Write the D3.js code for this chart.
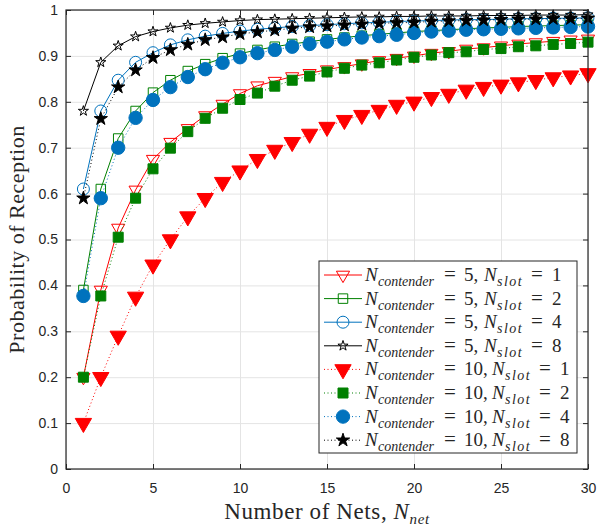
<!DOCTYPE html>
<html>
<head>
<meta charset="utf-8">
<script src="https://cdn.jsdelivr.net/npm/d3@7"></script>
<style>
  body { margin: 0; background: #fff; }
  .tick text { font-family: "Liberation Sans", Arial, sans-serif; font-size: 14px; fill: #262626; }
  .grid line { stroke: #e4e4e4; }
  .grid .domain { display: none; }
</style>
</head>
<body>
<div id="chart"></div>
<script>
/* Probability of reception vs number of nets */

// data
const nets = [1,2,3,4,5,6,7,8,9,10,11,12,13,14,15,16,17,18,19,20,21,22,23,24,25,26,27,28,29,30];

const c5s1 = [0.20,0.39,0.525,0.608,0.675,0.712,0.742,0.770,0.795,0.818,0.835,0.845,0.855,0.862,0.870,0.877,0.883,0.890,0.895,0.900,0.906,0.910,0.915,0.918,0.922,0.926,0.929,0.932,0.935,0.937];
const c5s2 = [0.39,0.61,0.72,0.78,0.82,0.847,0.867,0.882,0.895,0.905,0.913,0.920,0.926,0.931,0.936,0.940,0.944,0.947,0.950,0.953,0.955,0.957,0.959,0.961,0.962,0.964,0.965,0.966,0.967,0.968];
const c5s4 = [0.61,0.78,0.847,0.886,0.907,0.924,0.935,0.943,0.949,0.954,0.958,0.961,0.964,0.966,0.968,0.970,0.972,0.973,0.975,0.976,0.977,0.978,0.979,0.979,0.980,0.981,0.981,0.982,0.982,0.983];
const c5s8 = [0.78,0.886,0.922,0.942,0.953,0.961,0.967,0.971,0.974,0.977,0.979,0.980,0.981,0.982,0.983,0.984,0.985,0.985,0.986,0.986,0.987,0.987,0.987,0.988,0.988,0.988,0.989,0.989,0.989,0.990];
const c10s1 = [0.10,0.20,0.29,0.375,0.445,0.50,0.55,0.59,0.625,0.65,0.675,0.695,0.712,0.730,0.745,0.760,0.771,0.782,0.793,0.800,0.810,0.817,0.826,0.832,0.837,0.842,0.847,0.853,0.857,0.862];
const c10s2 = [0.20,0.377,0.505,0.59,0.654,0.699,0.735,0.764,0.786,0.805,0.819,0.834,0.847,0.856,0.865,0.873,0.880,0.885,0.891,0.897,0.902,0.907,0.909,0.914,0.916,0.920,0.922,0.925,0.927,0.930];
const c10s4 = [0.377,0.59,0.70,0.765,0.804,0.832,0.854,0.871,0.885,0.897,0.906,0.913,0.920,0.926,0.931,0.936,0.940,0.943,0.946,0.950,0.953,0.955,0.957,0.958,0.959,0.960,0.961,0.962,0.963,0.964];
const c10s8 = [0.59,0.763,0.832,0.869,0.896,0.913,0.925,0.935,0.941,0.948,0.952,0.956,0.960,0.963,0.965,0.967,0.969,0.971,0.972,0.973,0.975,0.976,0.977,0.978,0.979,0.980,0.980,0.981,0.981,0.982];

const contenders = [5, 5, 5, 5, 10, 10, 10, 10];
const slots = [1, 2, 4, 8, 1, 2, 4, 8];

const xTicks = [0, 5, 10, 15, 20, 25, 30];
const yTicks = [0, 0.1, 0.2, 0.3, 0.4, 0.5, 0.6, 0.7, 0.8, 0.9, 1];

const width = 597,
    height = 527,
    margin = ({ top: 10, right: 9, bottom: 58, left: 66 });

const svg = d3.select("#chart")
    .append("svg")
    .attr("width", width)
    .attr("height", height);

let x = d3.scaleLinear()
    .domain([0, 30])
    .range([margin.left, width - margin.right]);

let y = d3.scaleLinear()
    .domain([0, 1])
    .range([height - margin.bottom, margin.top]);

// grid lines first, under everything
svg.append("g")
    .attr("class", "grid")
    .attr("transform", `translate(0,${margin.top})`)
    .call(d3.axisBottom(x).tickValues(xTicks).tickSize(height - margin.bottom - margin.top).tickFormat(""));

svg.append("g")
    .attr("class", "grid")
    .attr("transform", `translate(${margin.left},0)`)
    .call(d3.axisRight(y).tickValues(yTicks).tickSize(width - margin.left - margin.right).tickFormat(""));

// series styles
const red = "#ff0000", green = "#008000", blue = "#0072bd", black = "#000000";

const series = [
    { vals: c5s1, color: red, dotted: false, shape: "tri", size: 75, filled: false },
    { vals: c5s2, color: green, dotted: false, shape: "square", size: 90, filled: false },
    { vals: c5s4, color: blue, dotted: false, shape: "circle", size: 113, filled: false },
    { vals: c5s8, color: black, dotted: false, shape: "star", size: 32, filled: false },
    { vals: c10s1, color: red, dotted: true, shape: "tri", size: 115, filled: true },
    { vals: c10s2, color: green, dotted: true, shape: "square", size: 100, filled: true },
    { vals: c10s4, color: blue, dotted: true, shape: "circle", size: 140, filled: true },
    { vals: c10s8, color: black, dotted: true, shape: "star", size: 55, filled: true }
];

const shapes = { tri: d3.symbolTriangle, square: d3.symbolSquare, circle: d3.symbolCircle, star: d3.symbolStar };

function drawMarker(g, s) {
    g.append("path")
        .attr("d", d3.symbol().type(shapes[s.shape]).size(s.size)())
        .attr("transform", s.shape === "tri" ? "rotate(180)" : null) // downward triangle
        .attr("fill", s.filled ? s.color : "none")
        .attr("stroke", s.color)
        .attr("stroke-width", 1);
}

let line = d3.line()
    .x(d => x(d.n))
    .y(d => y(d.p));

series.forEach(s => {
    let pts = nets.map((n, i) => ({ n: n, p: s.vals[i] }));
    let g = svg.append("g");
    g.append("path")
        .datum(pts)
        .attr("d", line)
        .attr("fill", "none")
        .attr("stroke", s.color)
        .attr("stroke-width", 1)
        .attr("stroke-dasharray", s.dotted ? "1,2.5" : null);
    g.selectAll(".m")
        .data(pts)
        .join("g")
        .attr("transform", d => `translate(${x(d.n)},${y(d.p)})`)
        .each(function () { drawMarker(d3.select(this), s); });
});

// axes: box with inward ticks
svg.append("g")
    .attr("transform", `translate(0,${height - margin.bottom})`)
    .call(d3.axisBottom(x).tickValues(xTicks).tickSize(-5).tickSizeOuter(0).tickPadding(14))
    .call(g => g.select(".domain").remove());

svg.append("g")
    .attr("transform", `translate(${margin.left},0)`)
    .call(d3.axisLeft(y).tickValues(yTicks).tickSize(-5).tickSizeOuter(0).tickPadding(8).tickFormat(d3.format("")))
    .call(g => g.select(".domain").remove());

svg.append("g")
    .attr("transform", `translate(0,${margin.top})`)
    .call(d3.axisTop(x).tickValues(xTicks).tickSize(-5).tickSizeOuter(0).tickFormat(""))
    .call(g => g.select(".domain").remove());

svg.append("g")
    .attr("transform", `translate(${width - margin.right},0)`)
    .call(d3.axisRight(y).tickValues(yTicks).tickSize(-5).tickSizeOuter(0).tickFormat(""))
    .call(g => g.select(".domain").remove());

svg.selectAll(".tick line").attr("stroke", "#262626");

svg.append("rect")
    .attr("x", margin.left)
    .attr("y", margin.top)
    .attr("width", width - margin.left - margin.right)
    .attr("height", height - margin.top - margin.bottom)
    .attr("fill", "none")
    .attr("stroke", "#262626")
    .attr("stroke-width", 1.2);

// axis labels (serif, like the LaTeX labels)
svg.append("text")
    .attr("text-anchor", "middle")
    .attr("transform", `translate(24,${(margin.top + height - margin.bottom) / 2}) rotate(-90)`)
    .attr("font-family", "Liberation Serif, serif")
    .attr("font-size", 22)
    .attr("letter-spacing", 0.5)
    .attr("fill", "#262626")
    .text("Probability of Reception");

let xl = svg.append("text")
    .attr("text-anchor", "middle")
    .attr("x", (margin.left + width - margin.right) / 2)
    .attr("y", 519)
    .attr("font-family", "Liberation Serif, serif")
    .attr("font-size", 23)
    .attr("letter-spacing", 0.6)
    .attr("fill", "#262626");
xl.append("tspan").text("Number of Nets, ");
xl.append("tspan").attr("font-style", "italic").text("N");
xl.append("tspan").attr("font-style", "italic").attr("font-size", 15).attr("dy", 5).text("net");

// legend
const legend = svg.append("g").attr("transform", "translate(319,261)");
legend.append("rect")
    .attr("width", 258)
    .attr("height", 192)
    .attr("fill", "#fff")
    .attr("stroke", "#262626")
    .attr("stroke-width", 1);

series.forEach((s, i) => {
    let row = legend.append("g").attr("transform", `translate(0,${14 + i * 23.6})`);
    row.append("line")
        .attr("x1", 5).attr("x2", 43)
        .attr("stroke", s.color)
        .attr("stroke-width", 1)
        .attr("stroke-dasharray", s.dotted ? "1,2.5" : null);
    drawMarker(row.append("g").attr("transform", "translate(24,0)"), s);

    let off = contenders[i] >= 10 ? 8 : 0; // two-digit value pushes the rest right
    let t = row.append("g")
        .attr("font-family", "Liberation Serif, serif")
        .attr("fill", "#262626");
    t.append("text").attr("x", 46).attr("y", 6).attr("font-size", 19).attr("font-style", "italic").text("N");
    t.append("text").attr("x", 59).attr("y", 11).attr("font-size", 14).attr("font-style", "italic").text("contender");
    t.append("text").attr("x", 125).attr("y", 6).attr("font-size", 21).text("=");
    t.append("text").attr("x", 145).attr("y", 6).attr("font-size", 19).text(`${contenders[i]},`);
    t.append("text").attr("x", 165 + off).attr("y", 6).attr("font-size", 19).attr("font-style", "italic").text("N");
    t.append("text").attr("x", 178 + off).attr("y", 11).attr("font-size", 14).attr("letter-spacing", 1.5).attr("font-style", "italic").text("slot");
    t.append("text").attr("x", 212 + off).attr("y", 6).attr("font-size", 21).text("=");
    t.append("text").attr("x", 233 + off).attr("y", 6).attr("font-size", 19).text(slots[i]);
});
</script>
</body>
</html>
